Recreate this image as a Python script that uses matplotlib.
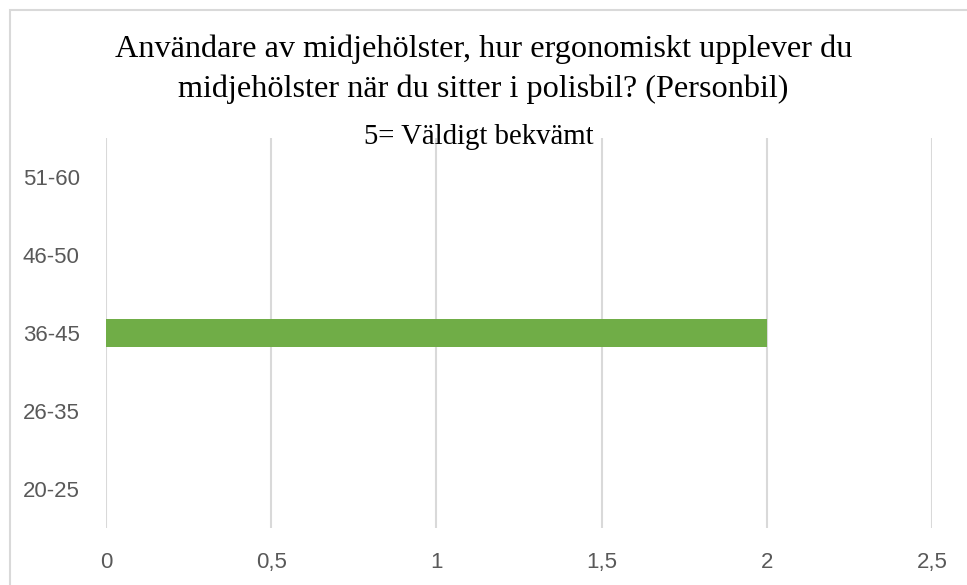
import matplotlib
matplotlib.use("Agg")
import matplotlib.pyplot as plt
from matplotlib.patches import Rectangle
from matplotlib.ticker import FuncFormatter

categories = ["20-25", "26-35", "36-45", "46-50", "51-60"]
values = [0, 0, 2, 0, 0]
xticks = [0, 0.5, 1, 1.5, 2, 2.5]
title = "Användare av midjehölster, hur ergonomiskt upplever du\nmidjehölster när du sitter i polisbil? (Personbil)"
subtitle = "5= Väldigt bekvämt"

W, H = 967, 585
fig = plt.figure(figsize=(W / 100, H / 100), dpi=100)
fig.patch.set_facecolor("white")

# chart border
fig.add_artist(Rectangle((10 / W, -0.1), 1.2, (H - 10) / H + 0.1,
                         transform=fig.transFigure, fill=False,
                         edgecolor="#d9d9d9", linewidth=1.5))

ax = fig.add_axes([106 / W, 1 - 528 / H, (932 - 106) / W, (528 - 138) / H])
y = range(len(categories))
ax.barh(list(y), values, height=0.35, color="#70ad47", zorder=3)
ax.set_xlim(0, 2.5)
ax.set_ylim(-0.5, len(categories) - 0.5)
ax.set_xticks(xticks)
ax.xaxis.set_major_formatter(FuncFormatter(lambda v, p: ("%g" % v).replace(".", ",")))
ax.set_yticks(list(y))
ax.set_yticklabels(categories)
ax.grid(axis="x", color="#d9d9d9", linewidth=1.5, zorder=0)
for s in ax.spines.values():
    s.set_visible(False)
ax.tick_params(length=0, labelsize=16, labelcolor="#595959")
ax.tick_params(axis="x", pad=17)
ax.tick_params(axis="y", pad=60)
for lab in ax.get_xticklabels() + ax.get_yticklabels():
    lab.set_fontfamily("Liberation Sans")
for lab in ax.get_yticklabels():
    lab.set_horizontalalignment("left")

fig.text(0.5, 1 - 69 / H, title, ha="center", va="center", fontsize=23.2,
         family="Liberation Serif", color="#000000", linespacing=1.45)
fig.text(479 / W, 1 - 137 / H, subtitle, ha="center", va="center", fontsize=20.7,
         family="Liberation Serif", color="#000000")

fig.savefig("out.png", dpi=100)
